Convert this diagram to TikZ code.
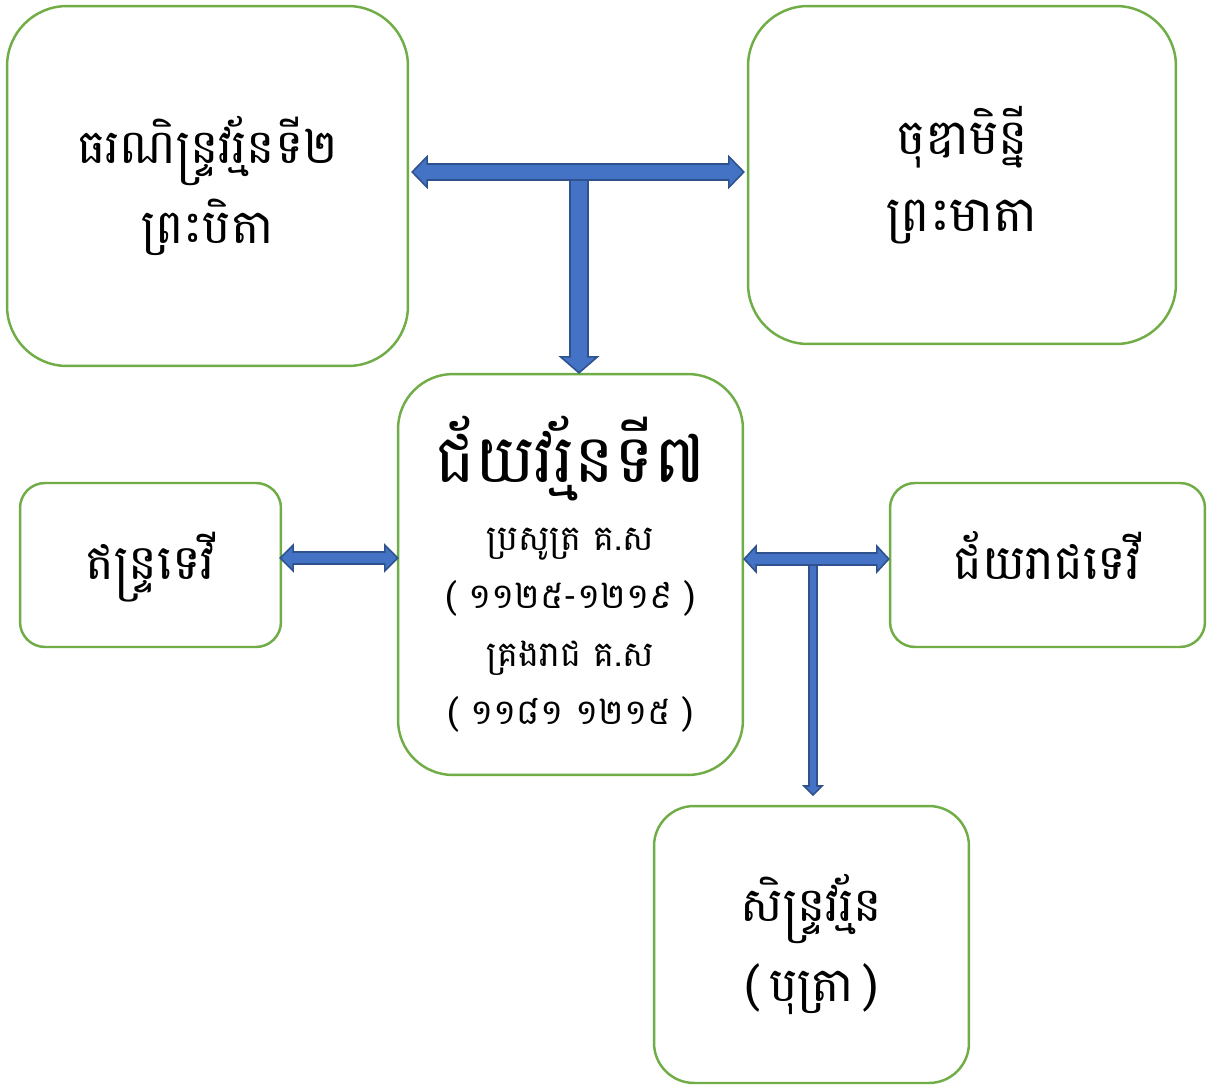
\documentclass[tikz,border=0pt]{standalone}
\usepackage{fontspec}
\newfontfamily\khmer[Script=Khmer]{Battambang}
\usetikzlibrary{calc}
\definecolor{boxgreen}{HTML}{70AD47}
\definecolor{arrfill}{HTML}{4472C4}
\definecolor{arrline}{HTML}{2F528F}
\newcommand\hblock[5]{%
 \draw[blk] (#1) -- ($(#1)+(#5,-#4)$) -- ($(#1)+(#5,-#3)$) -- ($(#2)+(-#5,-#3)$) -- ($(#2)+(-#5,-#4)$) -- (#2) -- ($(#2)+(-#5,#4)$) -- ($(#2)+(-#5,#3)$) -- ($(#1)+(#5,#3)$) -- ($(#1)+(#5,#4)$) -- cycle;}
\newcommand\vblock[5]{%
 \draw[blk] ($(#1)+(-#3,0)$) -- ($(#2)+(-#3,-#5)$) -- ($(#2)+(-#4,-#5)$) -- (#2) -- ($(#2)+(#4,-#5)$) -- ($(#2)+(#3,-#5)$) -- ($(#1)+(#3,0)$) -- cycle;}
\begin{document}
\begin{tikzpicture}[x=0.02cm,y=-0.02cm,
  kbox/.style={draw=boxgreen, line width=1.4pt, fill=white, align=center, inner sep=0pt},
  blk/.style={fill=arrfill, draw=arrline, line width=0.9pt, line join=miter}]
\useasboundingbox (0,0) rectangle (1208,1085);
\node[kbox, rounded corners=1.2cm, minimum width=8.02cm, minimum height=7.2cm,
  font=\khmer\fontsize{27}{46}\selectfont] (tl) at (207.5,186)
  {ធរណិន្ទ្រវរ្ម័នទី២\\ ព្រះបិតា};
\node[kbox, rounded corners=1.2cm, minimum width=8.56cm, minimum height=6.76cm,
  font=\khmer\fontsize{28}{44}\selectfont] (tr) at (962,175)
  {ចុឌាមិន្នី\\ ព្រះមាតា};
\node[kbox, rounded corners=1.1cm, minimum width=6.9cm, minimum height=8.02cm,
  font=\khmer\fontsize{20}{33}\selectfont] (c) at (570.5,574.5)
  {{\fontsize{38}{41}\selectfont ជ័យវរ្ម័នទី៧}\\[6pt]
   ប្រសូត្រ គ.ស\\ ( ១១២៥-១២១៩ )\\ គ្រងរាជ គ.ស\\ ( ១១៨១ ១២១៥ )};
\node[kbox, rounded corners=0.5cm, minimum width=5.22cm, minimum height=3.28cm,
  text height=22pt, text depth=5pt,
  font=\khmer\fontsize{27.5}{46}\selectfont] (l) at (150.5,565)
  {ឥន្ទ្រទេវី};
\node[kbox, rounded corners=0.5cm, minimum width=6.3cm, minimum height=3.28cm,
  text height=22pt, text depth=5pt,
  font=\khmer\fontsize{27.5}{46}\selectfont] (r) at (1047.5,565)
  {ជ័យរាជទេវី};
\node[kbox, rounded corners=0.8cm, minimum width=6.3cm, minimum height=5.54cm,
  font=\khmer\fontsize{27}{45}\selectfont] (b) at (811.5,944.5)
  {សិន្ទ្រវរ្ម័ន\\ (\hspace{0.2em}បុត្រា\hspace{0.2em})};
% top T arrow
\coordinate (t1) at ($(tl.east |- 0,172)+(3,0)$);
\coordinate (t2) at ($(tr.west |- 0,172)+(-3,0)$);
\coordinate (ts) at (579,172);
\coordinate (tt) at (579,0 |- c.north);
\vblock{ts}{tt}{9}{18.5}{16}
\hblock{t1}{t2}{8}{15.5}{15}
% left arrow
\coordinate (l1) at ($(l.east |- 0,558)+(-2,0)$);
\coordinate (l2) at ($(c.west |- 0,558)+(1,0)$);
\hblock{l1}{l2}{6}{13}{13}
% right T arrow
\coordinate (r1) at (c.east |- 0,559);
\coordinate (r2) at (r.west |- 0,559);
\coordinate (rs) at (813,559);
\coordinate (rt) at (813,795);
\vblock{rs}{rt}{4}{9}{9}
\hblock{r1}{r2}{6}{13}{12}
\end{tikzpicture}
\end{document}
